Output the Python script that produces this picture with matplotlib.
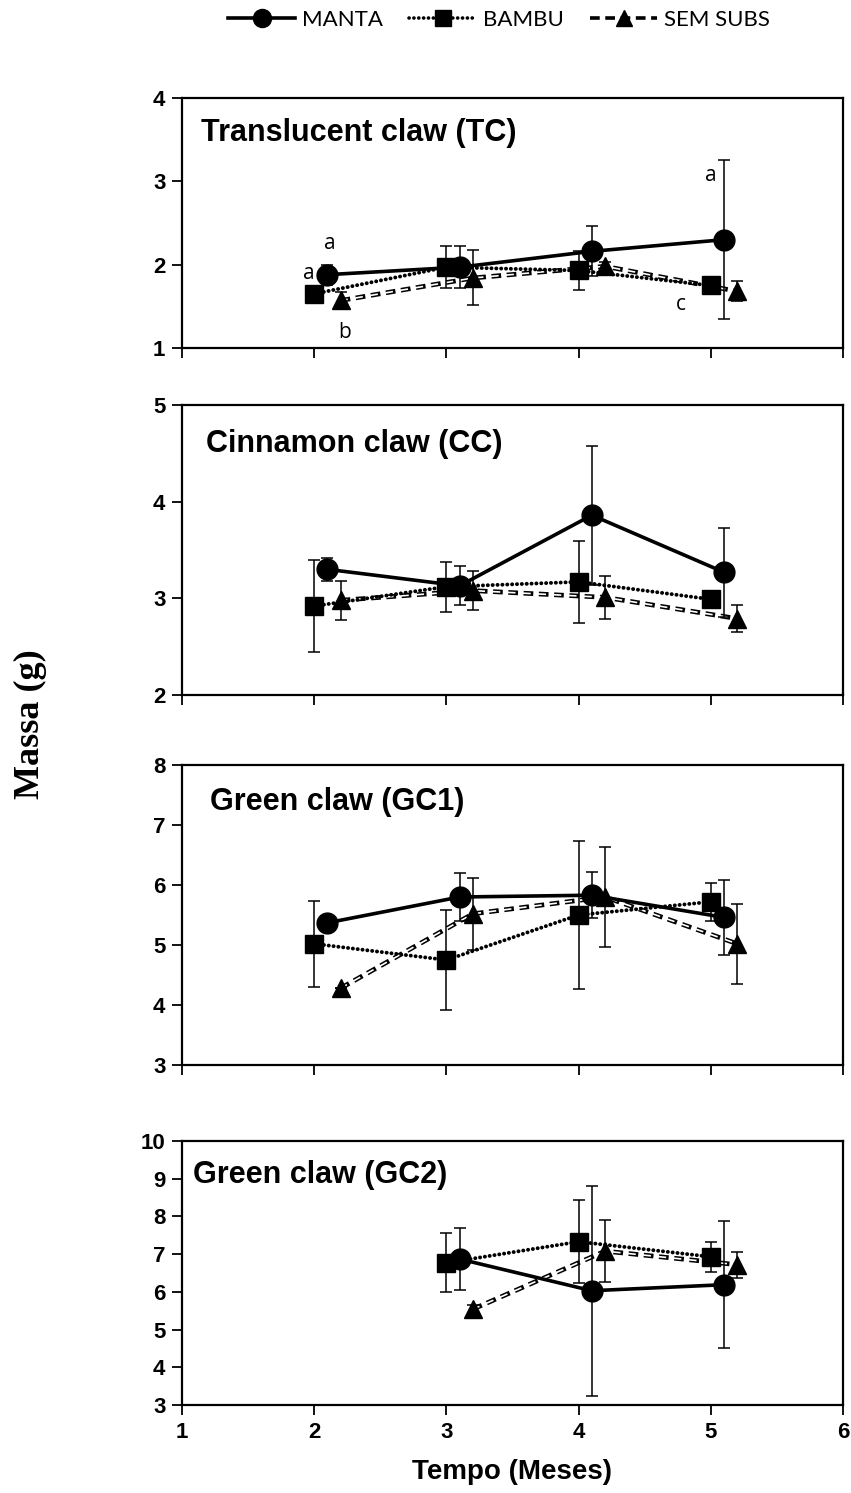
import numpy as np
import matplotlib
matplotlib.use("Agg")
import matplotlib.pyplot as plt
from matplotlib.lines import Line2D
from matplotlib.font_manager import FontProperties

plt.rcParams['lines.scale_dashes'] = False

# months and panel setup
months = [2, 3, 4, 5]
panel_titles = ["Translucent claw (TC)", "Cinnamon claw (CC)", "Green claw (GC1)", "Green claw (GC2)"]
panel_ylims = [(1, 4), (2, 5), (3, 8), (3, 10)]

# MANTA (mean, error) per panel
manta_mean = [[1.88, 1.97, 2.16, 2.30],
              [3.30, 3.13, 3.86, 3.27],
              [5.37, 5.80, 5.83, 5.46],
              [np.nan, 6.87, 6.03, 6.19]]
manta_err = [[0.12, 0.25, 0.30, 0.95],
             [0.12, 0.20, 0.72, 0.46],
             [0.00, 0.40, 0.38, 0.62],
             [np.nan, 0.83, 2.78, 1.69]]

# BAMBU
bambu_mean = [[1.65, 1.97, 1.93, 1.75],
              [2.92, 3.12, 3.17, 2.99],
              [5.02, 4.75, 5.50, 5.72],
              [np.nan, 6.77, 7.33, 6.93]]
bambu_err = [[0.05, 0.25, 0.23, 0.10],
             [0.48, 0.26, 0.42, 0.05],
             [0.72, 0.83, 1.24, 0.32],
             [np.nan, 0.78, 1.10, 0.40]]

# SEM SUBS
sem_mean = [[1.57, 1.84, 1.98, 1.68],
            [2.98, 3.08, 3.01, 2.79],
            [4.28, 5.52, 5.80, 5.02],
            [np.nan, 5.54, 7.08, 6.72]]
sem_err = [[0.10, 0.33, 0.05, 0.12],
           [0.20, 0.20, 0.22, 0.14],
           [0.00, 0.60, 0.83, 0.67],
           [np.nan, 0.10, 0.83, 0.35]]

# significance letters on TC panel: (x, y, text)
tc_letters = [(2.12, 2.25, "a"), (1.96, 1.89, "a"), (2.23, 1.18, "b"),
              (5.00, 3.07, "a"), (4.77, 1.52, "c")]

fig = plt.figure(figsize=(8.51, 14.93), dpi=100)

# axes boxes in pixels (top, bottom) and title offsets
boxes = [(98, 348), (405, 695), (765, 1065), (1141, 1405)]
title_x = [0.029, 0.036, 0.042, 0.016]
title_y = [0.86, 0.866, 0.877, 0.871]
W, H = 851.0, 1493.0
left_px, right_px = 182, 843

tick_fp = FontProperties(family="Liberation Sans", weight="bold", size=16)
letter_font = dict(family="Open Sans", size=15)

dash_pat = (0, (7, 4))
dot_pat = (0, (0.1, 3.4))

for i in range(4):
    top, bot = boxes[i]
    ax = fig.add_axes([left_px / W, 1 - bot / H, (right_px - left_px) / W, (bot - top) / H])
    x = np.array(months, dtype=float)

    # MANTA
    ax.errorbar(x + 0.1, manta_mean[i], yerr=manta_err[i], color="black", lw=2.6,
                marker="o", ms=15, capsize=4, elinewidth=1.1, capthick=1.1, zorder=5)
    # BAMBU
    ax.errorbar(x, bambu_mean[i], yerr=bambu_err[i], color="black", lw=2.8, ls=dot_pat,
                dash_capstyle="round", marker="s", ms=13.5, capsize=4, elinewidth=1.1,
                capthick=1.1, zorder=4)
    # SEM SUBS (hollow dashes)
    ax.errorbar(x + 0.2, sem_mean[i], yerr=sem_err[i], color="black", lw=0, marker="^",
                ms=13.5, capsize=4, elinewidth=1.1, capthick=1.1, zorder=4)
    ax.plot(x + 0.2, sem_mean[i], color="black", lw=3.4, ls=dash_pat, zorder=3)
    ax.plot(x + 0.2, sem_mean[i], color="white", lw=1.2, ls=(0.6, (5.8, 5.2)), zorder=3.1)

    ax.set_xlim(1, 6)
    ax.set_ylim(*panel_ylims[i])
    ax.set_xticks([1, 2, 3, 4, 5, 6])
    lo, hi = panel_ylims[i]
    ax.set_yticks(range(lo, hi + 1))
    ax.tick_params(direction="out", length=7, width=1.3, pad=5)
    for s in ax.spines.values():
        s.set_linewidth(1.6)
    for lab in ax.get_yticklabels():
        lab.set_fontproperties(tick_fp)
    if i < 3:
        ax.set_xticklabels([])
    else:
        for lab in ax.get_xticklabels():
            lab.set_fontproperties(tick_fp)
        ax.set_xlabel("Tempo (Meses)", fontsize=20, fontweight="bold",
                      family="Liberation Sans", labelpad=12)

    ax.text(title_x[i], title_y[i], panel_titles[i], transform=ax.transAxes, fontsize=22,
            fontweight="bold", family="Liberation Sans", va="center", ha="left")

    if i == 0:
        for (lx, ly, t) in tc_letters:
            ax.text(lx, ly, t, ha="center", va="center", **letter_font)

fig.text(30 / W, 1 - 724 / H, "Massa (g)", rotation=90, fontsize=26, fontweight="bold",
         family="Liberation Serif", ha="center", va="center")

handles = [
    Line2D([], [], color="black", lw=2.6, marker="o", ms=13),
    Line2D([], [], color="black", lw=2.6, ls=dot_pat, dash_capstyle="round",
           marker="s", ms=11),
    Line2D([], [], color="black", lw=2.6, ls=dash_pat, marker="^", ms=12),
]
fig.legend(handles, ["MANTA", "BAMBU", "SEM SUBS"], loc="center",
           bbox_to_anchor=(499 / W, 1 - 20 / H), ncol=3, frameon=False,
           prop=dict(family="Lato", size=16), handlelength=3.0, columnspacing=1.2,
           handletextpad=0.3)

fig.savefig("out.png", dpi=100)
